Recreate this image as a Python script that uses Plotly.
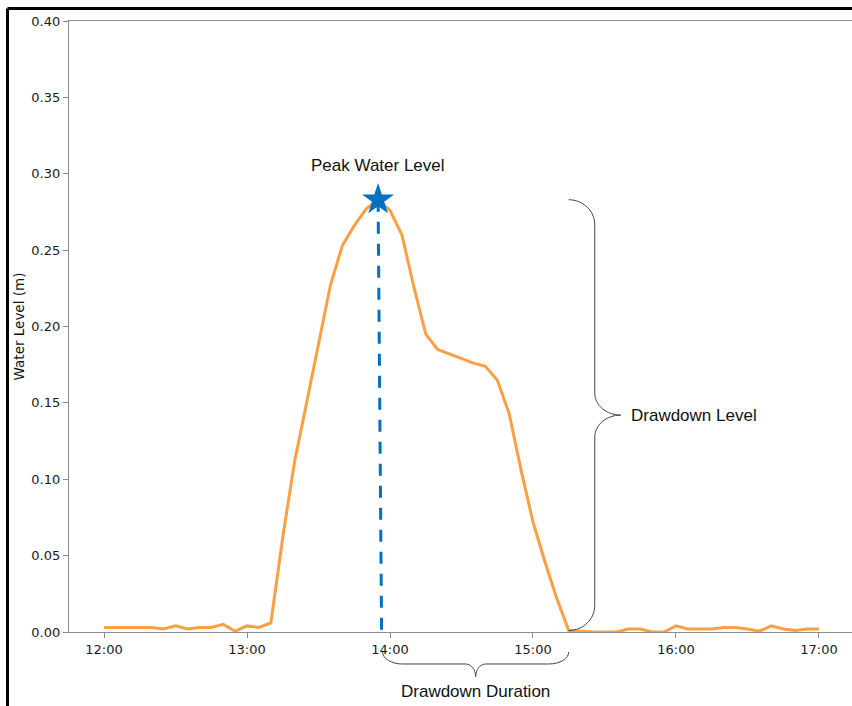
import plotly.graph_objects as go

# ---------------- data ----------------
times = [
    "12:00", "12:05", "12:10", "12:15", "12:20", "12:25", "12:30", "12:35", "12:40", "12:45", "12:50", "12:55",
    "13:00", "13:05", "13:10", "13:15", "13:20", "13:25", "13:30", "13:35", "13:40", "13:45", "13:50", "13:55",
    "14:00", "14:05", "14:10", "14:15", "14:20", "14:25", "14:30", "14:35", "14:40", "14:45", "14:50", "14:55",
    "15:00", "15:05", "15:10", "15:15", "15:20", "15:25", "15:30", "15:35", "15:40", "15:45", "15:50", "15:55",
    "16:00", "16:05", "16:10", "16:15", "16:20", "16:25", "16:30", "16:35", "16:40", "16:45", "16:50", "16:55",
    "17:00",
]
water_level = [
    0.003, 0.003, 0.003, 0.003, 0.003, 0.002, 0.004, 0.002, 0.003, 0.003, 0.005, 0.0005,
    0.004, 0.003, 0.006, 0.062, 0.112, 0.150, 0.189, 0.227, 0.253, 0.266, 0.277, 0.283,
    0.276, 0.260, 0.226, 0.195, 0.185, 0.182, 0.179, 0.176, 0.174, 0.165, 0.143, 0.106,
    0.072, 0.046, 0.022, 0.001, 0.0005, 0.0, 0.0, 0.0, 0.002, 0.002, 0.0, 0.0,
    0.004, 0.002, 0.002, 0.002, 0.003, 0.003, 0.002, 0.0005, 0.004, 0.002, 0.001, 0.002,
    0.002,
]
tick_labels = ["12:00", "13:00", "14:00", "15:00", "16:00", "17:00"]
y_ticks = [0.00, 0.05, 0.10, 0.15, 0.20, 0.25, 0.30, 0.35, 0.40]


def to_hours(s):
    h, m = s.split(":")
    return int(h) + int(m) / 60.0


x = [to_hours(t) for t in times]
tick_vals = [to_hours(t) for t in tick_labels]

peak_i = max(range(len(water_level)), key=lambda i: water_level[i])
peak_x, peak_y = x[peak_i], water_level[peak_i]
end_i = next(i for i in range(peak_i, len(x)) if water_level[i] <= 0.002)
end_x, end_y = x[end_i], water_level[end_i]

# ---------------- geometry helpers (pixel -> data units) ----------------
X_RANGE = [11.755, 17.231]
Y_RANGE = [0.0, 0.40]
PLOT_W, PLOT_H = 783, 611
HX = (X_RANGE[1] - X_RANGE[0]) / PLOT_W
HY = (Y_RANGE[1] - Y_RANGE[0]) / PLOT_H
PY = 1.0 / PLOT_H
K = 0.5523


def f(v):
    return f"{v:.6f}"


# vertical brace (Drawdown Level)
x0 = end_x
xv = x0 + 26 * HX
xt = x0 + 52 * HX
ytop, ybot = peak_y, end_y
ym = (ytop + ybot) / 2
re_, rt = 25 * HY, 22 * HY
vbrace = (
    f"M {f(x0)},{f(ytop)} "
    f"C {f(x0 + K * (xv - x0))},{f(ytop)} {f(xv)},{f(ytop - (1 - K) * re_)} {f(xv)},{f(ytop - re_)} "
    f"L {f(xv)},{f(ym + rt)} "
    f"C {f(xv)},{f(ym + rt - K * rt)} {f(xt - K * (xt - xv))},{f(ym)} {f(xt)},{f(ym)} "
    f"C {f(xt - K * (xt - xv))},{f(ym)} {f(xv)},{f(ym - rt + K * rt)} {f(xv)},{f(ym - rt)} "
    f"L {f(xv)},{f(ybot + re_)} "
    f"C {f(xv)},{f(ybot + re_ - K * re_)} {f(x0 + K * (xv - x0))},{f(ybot)} {f(x0)},{f(ybot)}"
)

# horizontal brace (Drawdown Duration), x in data, y in paper units
dash_bottom_x = peak_x + 3.5 * HX
xa = peak_x + 4.5 * HX
xb = end_x
xm = (xa + xb) / 2
y_end, y_h, y_tip = -20 * PY, -32 * PY, -44.7 * PY
rxe, rxt = 20 * HX, 10 * HX
hbrace = (
    f"M {f(xa)},{f(y_end)} "
    f"C {f(xa)},{f(y_end - K * (y_end - y_h))} {f(xa + (1 - K) * rxe)},{f(y_h)} {f(xa + rxe)},{f(y_h)} "
    f"L {f(xm - rxt)},{f(y_h)} "
    f"C {f(xm - rxt + K * rxt)},{f(y_h)} {f(xm)},{f(y_tip + K * (y_h - y_tip))} {f(xm)},{f(y_tip)} "
    f"C {f(xm)},{f(y_tip + K * (y_h - y_tip))} {f(xm + rxt - K * rxt)},{f(y_h)} {f(xm + rxt)},{f(y_h)} "
    f"L {f(xb - rxe)},{f(y_h)} "
    f"C {f(xb - (1 - K) * rxe)},{f(y_h)} {f(xb)},{f(y_end - K * (y_end - y_h))} {f(xb)},{f(y_end)}"
)

# ---------------- figure ----------------
fig = go.Figure()
fig.add_trace(go.Scatter(
    x=x, y=water_level, mode="lines",
    line=dict(color="#FA9F42", width=3),
    showlegend=False, hoverinfo="skip",
))
fig.add_trace(go.Scatter(
    x=[peak_x, dash_bottom_x], y=[peak_y, 0.0], mode="lines",
    line=dict(color="#0070C0", width=3, dash="12px,10px"),
    showlegend=False, hoverinfo="skip",
))
fig.add_trace(go.Scatter(
    x=[peak_x], y=[peak_y], mode="markers",
    marker=dict(symbol="star", size=24, color="#0070C0", line=dict(width=0)),
    showlegend=False, hoverinfo="skip",
))

brace_line = dict(color="#444444", width=1)
fig.add_shape(type="path", path=vbrace, xref="x", yref="y", line=brace_line)
fig.add_shape(type="path", path=hbrace, xref="x", yref="paper", line=brace_line)

# outer frame (top and left edges)
fx = (7.5 - 69) / PLOT_W
fy = (632 - 8.5) / PLOT_H
fig.add_shape(type="line", xref="paper", yref="paper", x0=fx, x1=fx, y0=fy, y1=-0.2,
              line=dict(color="black", width=3))
fig.add_shape(type="line", xref="paper", yref="paper", x0=fx, x1=1.05, y0=fy, y1=fy,
              line=dict(color="black", width=3))

ann_font = dict(family="Liberation Sans, Arial, sans-serif", size=17, color="#111111")
fig.add_annotation(x=peak_x, y=peak_y, xref="x", yref="y", text="Peak Water Level",
                   showarrow=False, yshift=34, xanchor="center", yanchor="middle", font=ann_font)
fig.add_annotation(x=xt, y=ym, xref="x", yref="y", text="Drawdown Level",
                   showarrow=False, xshift=8, xanchor="left", yanchor="middle", font=ann_font)
fig.add_annotation(x=xm, y=y_tip, xref="x", yref="paper", text="Drawdown Duration",
                   showarrow=False, yshift=-15, xanchor="center", yanchor="middle", font=ann_font)

tick_font = dict(family="DejaVu Sans, sans-serif", size=13, color="#1a1a1a")
fig.update_layout(
    width=852, height=706,
    margin=dict(l=69, r=0, t=21, b=74),
    paper_bgcolor="white", plot_bgcolor="white",
    showlegend=False,
)
fig.update_xaxes(
    range=X_RANGE, tickmode="array", tickvals=tick_vals, ticktext=tick_labels,
    showline=True, linecolor="#8c8c8c", linewidth=1.2, mirror=True,
    ticks="outside", ticklen=5, tickcolor="#8c8c8c", tickwidth=1,
    showgrid=False, zeroline=False, tickfont=tick_font,
)
fig.update_yaxes(
    range=Y_RANGE, tickmode="array", tickvals=y_ticks, tickformat=".2f",
    showline=True, linecolor="#8c8c8c", linewidth=1.2,
    ticks="outside", ticklen=5, tickcolor="#8c8c8c", tickwidth=1,
    showgrid=False, zeroline=False, tickfont=tick_font,
    title=dict(text="Water Level (m)", font=dict(family="DejaVu Sans, sans-serif", size=13.5, color="#111111"),
               standoff=3),
)

fig.write_html("out.html", config={"displayModeBar": False},
               post_script="document.body.style.margin='0';")
